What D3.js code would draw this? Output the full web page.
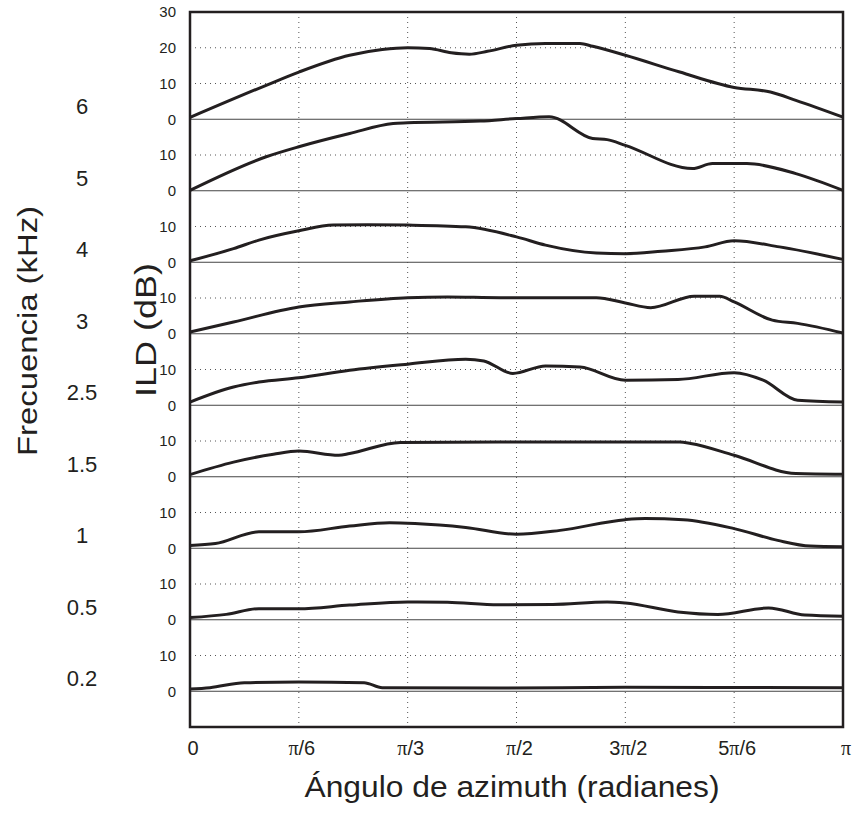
<!DOCTYPE html>
<html>
<head>
<meta charset="utf-8">
<script src="https://cdn.jsdelivr.net/npm/d3@7"></script>
<style>
  body { margin: 0; background: #fff; }
  text { font-family: "Liberation Sans", Arial, sans-serif; fill: #231f20; }
</style>
</head>
<body>
<div id="chart"></div>
<script>
// frequency bands, top to bottom
const freqs = ["6", "5", "4", "3", "2.5", "1.5", "1", "0.5", "0.2"];

// x ticks (degrees) and their labels
const xTicks = [0, 30, 60, 90, 120, 150, 180];
const xTickLabels = ["0", "π/6", "π/3", "π/2", "3π/2", "5π/6", "π"];

// ILD curves, [azimuth in degrees, dB]
const ild6 = [[0,0.5],[21,9.5],[30,13.2],[44,17.9],[53,19.5],[60,20],[66,19.8],[72,18.6],[77,18.2],[82,19],[90,20.7],[98,21.2],[107.5,21.2],[111,20.4],[120,17.9],[135,13.2],[150,8.9],[160,7.6],[167,5.3],[180,0.6]];
const ild5 = [[0,0.1],[21,9.5],[30,12.3],[44,16],[56,18.8],[60,19],[80,19.5],[90,20.2],[99,20.7],[111,14.6],[115,14.3],[120,12.7],[138.5,6.2],[144,7.6],[153.5,7.6],[167,4.8],[180,0.1]];
const ild4 = [[0,0.4],[12,3.8],[19,6.2],[30,8.8],[39.5,10.4],[49,10.5],[60,10.4],[76,9.9],[90,7.1],[98,4.8],[112,2.6],[120,2.4],[130,3.1],[142,4.3],[150,6.0],[162.5,4.3],[180,0.8]];
const ild3 = [[0,0.5],[12,3.3],[30,7.5],[44,8.9],[60,10.1],[71,10.3],[85.5,10.1],[112,10.1],[120,8.6],[127,7.3],[139,10.5],[146,10.5],[150,8.9],[160.5,3.8],[167.5,2.9],[180,0.2]];
const ild25 = [[0,0.9],[12,5.1],[19,6.5],[30,7.7],[44,9.8],[60,11.5],[76,12.9],[81,12.4],[89,8.9],[98,11],[107.5,10.7],[120,7.0],[134.5,7.2],[150,9.1],[158,7.0],[167.5,1.4],[180,0.9]];
const ild15 = [[0,0.6],[12,4.1],[23,6.3],[30,7.2],[41,6.0],[44,6.5],[58,9.6],[85,9.7],[110,9.7],[135,9.7],[138,9.3],[150,6.0],[167,0.9],[180,0.7]];
const ild1 = [[0,0.8],[7,1.3],[19,4.6],[30,4.6],[44,6.2],[55,7.1],[62,6.9],[76,5.8],[90,3.9],[102,5.0],[120,8.0],[125.5,8.3],[136,8.0],[150,5.5],[162,2.2],[171,0.6],[180,0.4]];
const ild05 = [[0,0.6],[10,1.5],[19,3.1],[30,3.1],[44,4.1],[60,5.0],[71,4.9],[85,4.2],[100,4.3],[115,5.0],[120,4.7],[134.5,2.2],[145.5,1.5],[159.5,3.3],[169.5,1.3],[180,1.0]];
const ild02 = [[0,0.6],[5.5,1.0],[15,2.4],[30,2.6],[48,2.4],[53,1.0],[85,0.9],[120,1.1],[180,1.0]];
const series = [ild6, ild5, ild4, ild3, ild25, ild15, ild1, ild05, ild02];

// each band is 20 dB tall, the bottom band sits at offset 0
const bandStep = 20;

const width = 857, height = 816;
const margin = { left: 190, right: 14, top: 12, bottom: 89 };

const svg = d3.select("#chart").append("svg")
  .attr("width", width)
  .attr("height", height);

const x = d3.scaleLinear().domain([0, 180]).range([margin.left, width - margin.right]);
const y = d3.scaleLinear()
  .domain([-10, bandStep * (freqs.length - 1) + 30])
  .range([height - margin.bottom, margin.top]);

const offset = i => bandStep * (freqs.length - 1 - i);

// dotted vertical grid
svg.append("g")
  .selectAll("line")
  .data(xTicks.slice(1, -1))
  .join("line")
  .attr("x1", d => x(d)).attr("x2", d => x(d))
  .attr("y1", y.range()[1]).attr("y2", y.range()[0])
  .attr("stroke", "#555")
  .attr("stroke-width", 1)
  .attr("stroke-dasharray", "1,4");

// dotted horizontal grid at 10 dB (and 20 dB for the top band)
const hGrid = [];
freqs.forEach((f, i) => {
  hGrid.push(offset(i) + 10);
  if (i === 0) hGrid.push(offset(i) + 20);
});
svg.append("g")
  .selectAll("line")
  .data(hGrid)
  .join("line")
  .attr("x1", x(0)).attr("x2", x(180))
  .attr("y1", d => y(d)).attr("y2", d => y(d))
  .attr("stroke", "#555")
  .attr("stroke-width", 1)
  .attr("stroke-dasharray", "1,4");

// solid zero lines
svg.append("g")
  .selectAll("line")
  .data(freqs)
  .join("line")
  .attr("x1", x(0)).attr("x2", x(180))
  .attr("y1", (d, i) => y(offset(i))).attr("y2", (d, i) => y(offset(i)))
  .attr("stroke", "#444")
  .attr("stroke-width", 1);

// frame
svg.append("rect")
  .attr("x", x(0)).attr("y", y.range()[1])
  .attr("width", x(180) - x(0))
  .attr("height", y.range()[0] - y.range()[1])
  .attr("fill", "none")
  .attr("stroke", "#231f20")
  .attr("stroke-width", 2.5);

// curves
const line = d3.line()
  .x(d => x(d[0]))
  .curve(d3.curveMonotoneX);

svg.append("g")
  .selectAll("path")
  .data(series)
  .join("path")
  .attr("d", (d, i) => line.y(p => y(p[1] + offset(i)))(d))
  .attr("fill", "none")
  .attr("stroke", "#231f20")
  .attr("stroke-width", 3)
  .attr("stroke-linejoin", "round");

// y tick labels
const yLabels = [];
freqs.forEach((f, i) => {
  const v = i === 0 ? [0, 10, 20, 30] : [0, 10];
  v.forEach(t => yLabels.push({ pos: offset(i) + t, text: t }));
});
svg.append("g")
  .selectAll("text")
  .data(yLabels)
  .join("text")
  .attr("x", x(0) - 14)
  .attr("y", d => y(d.pos))
  .attr("dy", "0.35em")
  .attr("text-anchor", "end")
  .attr("font-size", 15)
  .text(d => d.text);

// frequency labels
svg.append("g")
  .selectAll("text")
  .data(freqs)
  .join("text")
  .attr("x", 82)
  .attr("y", (d, i) => y(offset(i) + 3.5))
  .attr("dy", "0.35em")
  .attr("text-anchor", "middle")
  .attr("font-size", 22)
  .text(d => d);

// x tick labels, pi in a serif face
const xl = svg.append("g")
  .selectAll("text")
  .data(xTicks)
  .join("text")
  .attr("x", d => x(d) + 3)
  .attr("y", y.range()[0] + 28)
  .attr("text-anchor", "middle")
  .attr("font-size", 20);
xl.each(function (d, i) {
  const parts = xTickLabels[i].split("π");
  const t = d3.select(this);
  parts.forEach((p, k) => {
    if (k > 0) t.append("tspan").style("font-family", "'Liberation Serif', serif").text("π");
    if (p) t.append("tspan").text(p);
  });
});

// axis titles
svg.append("text")
  .attr("x", 512)
  .attr("y", 797)
  .attr("text-anchor", "middle")
  .attr("font-size", 29)
  .attr("textLength", 415)
  .attr("lengthAdjust", "spacingAndGlyphs")
  .text("Ángulo de azimuth (radianes)");

svg.append("text")
  .attr("transform", "translate(156,330) rotate(-90)")
  .attr("text-anchor", "middle")
  .attr("font-size", 29)
  .attr("textLength", 134)
  .attr("lengthAdjust", "spacingAndGlyphs")
  .text("ILD (dB)");

svg.append("text")
  .attr("transform", "translate(37,331) rotate(-90)")
  .attr("text-anchor", "middle")
  .attr("font-size", 27)
  .attr("textLength", 250)
  .attr("lengthAdjust", "spacingAndGlyphs")
  .text("Frecuencia (kHz)");
</script>
</body>
</html>
